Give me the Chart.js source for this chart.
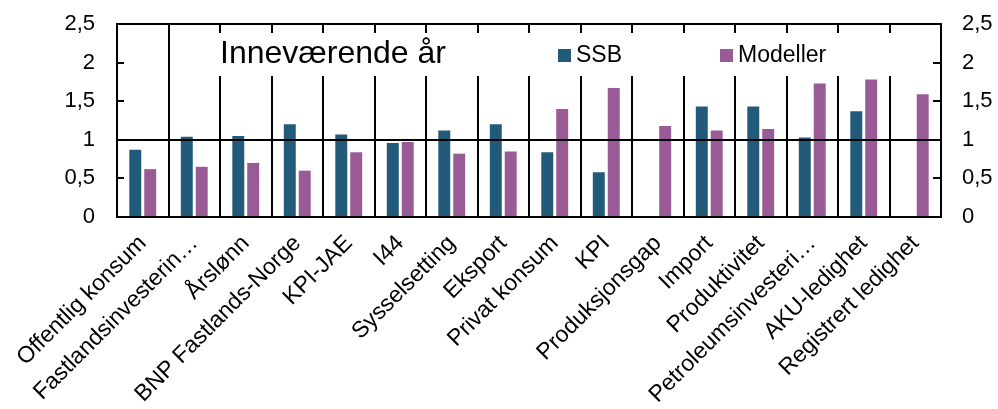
<!DOCTYPE html>
<html>
<head>
<meta charset="utf-8">
<script src="https://cdn.jsdelivr.net/npm/chart.js@4"></script>
<style>
  html, body { margin: 0; padding: 0; background: #fff; }
  #wrap { width: 998px; height: 409px; position: relative; }
</style>
</head>
<body>
<div id="wrap"><canvas id="chart"></canvas></div>
<script>
const categories = ['Offentlig konsum', 'Fastlandsinvesterin…', 'Årslønn', 'BNP Fastlands-Norge', 'KPI-JAE', 'I44',
    'Sysselsetting', 'Eksport', 'Privat konsum', 'KPI', 'Produksjonsgap', 'Import', 'Produktivitet',
    'Petroleumsinvesteri…', 'AKU-ledighet', 'Registrert ledighet'];
const ssbValues = [0.87, 1.04, 1.05, 1.20, 1.07, 0.96, 1.12, 1.20, 0.84, 0.58, null, 1.43, 1.43, 1.03, 1.37, null];
const modellerValues = [0.62, 0.65, 0.70, 0.60, 0.84, 0.97, 0.82, 0.85, 1.40, 1.67, 1.18, 1.12, 1.14, 1.73, 1.78, 1.59];
const yTicks = [0, 0.5, 1, 1.5, 2, 2.5];
const chartTitle = 'Inneværende år';

const FONT = "'Liberation Sans', Arial, sans-serif";
Chart.defaults.color = '#000';
Chart.defaults.font.family = FONT;

const fmt = v => String(v).replace('.', ',');

// frame, separators, inward ticks, the line at 1, title and legend
const decorations = {
    id: 'decorations',
    afterDatasetsDraw(chart) {
        const c = chart.ctx;
        const a = chart.chartArea;
        const x = chart.scales.x;
        const y = chart.scales.y;
        const gapTop = a.top + 9, gapBottom = 76;
        c.save();
        c.strokeStyle = '#000';
        c.lineWidth = 2;
        // category separators
        for (let i = 1; i < categories.length; i++) {
            const px = Math.round((x.getPixelForValue(i - 1) + x.getPixelForValue(i)) / 2);
            c.beginPath();
            if (i === 1) {
                c.moveTo(px, a.top); c.lineTo(px, a.bottom);
            } else {
                c.moveTo(px, a.top); c.lineTo(px, gapTop);
                c.moveTo(px, gapBottom); c.lineTo(px, a.bottom);
            }
            c.stroke();
        }
        // inward ticks
        yTicks.forEach(v => {
            const py = Math.round(y.getPixelForValue(v));
            c.beginPath();
            c.moveTo(a.left, py); c.lineTo(a.left + 7, py);
            c.moveTo(a.right, py); c.lineTo(a.right - 8, py);
            c.stroke();
        });
        // line at 1
        const p1 = Math.round(y.getPixelForValue(1));
        c.beginPath();
        c.moveTo(a.left, p1); c.lineTo(a.right, p1);
        c.stroke();
        // frame
        c.strokeRect(a.left, a.top, a.right - a.left, a.bottom - a.top);

        // title
        c.fillStyle = '#000';
        c.textBaseline = 'middle';
        c.textAlign = 'left';
        c.font = '32px ' + FONT;
        c.fillText(chartTitle, 220, 54);

        // legend
        c.font = '23px ' + FONT;
        const legendX = [558, 720];
        chart.data.datasets.forEach((ds, i) => {
            c.fillStyle = ds.backgroundColor;
            c.fillRect(legendX[i], 49, 13, 13);
            c.fillStyle = '#000';
            c.fillText(ds.label, legendX[i] + 18, 56);
        });
        c.restore();
    }
};

function fixWidth(w) {
    return function(scale) {
        scale.width = w;
        scale.paddingTop = 0;
        scale.paddingBottom = 0;
    };
}

const ctx = document.getElementById('chart').getContext('2d');
const chart = new Chart(ctx, {
    type: 'bar',
    data: {
        labels: categories,
        datasets: [{
            label: 'SSB',
            data: ssbValues,
            backgroundColor: '#225A79',
            categoryPercentage: 0.58,
            barPercentage: 0.8
        }, {
            label: 'Modeller',
            data: modellerValues,
            backgroundColor: '#985B96',
            categoryPercentage: 0.58,
            barPercentage: 0.8
        }]
    },
    options: {
        responsive: true,
        maintainAspectRatio: false,
        animation: false,
        layout: { padding: { top: 24 } },
        plugins: {
            legend: { display: false },
            tooltip: { enabled: false }
        },
        scales: {
            x: {
                grid: { display: false },
                border: { display: false },
                ticks: {
                    autoSkip: false,
                    maxRotation: 45,
                    minRotation: 45,
                    padding: 5,
                    font: { size: 23 }
                },
                afterFit(scale) { scale.height = 192; }
            },
            y: {
                position: 'left',
                min: 0,
                max: 2.5,
                grid: { display: false, drawTicks: false },
                border: { display: false },
                ticks: {
                    stepSize: 0.5,
                    padding: 22,
                    font: { size: 22 },
                    callback: v => fmt(v)
                },
                afterFit: fixWidth(117)
            },
            y2: {
                position: 'right',
                min: 0,
                max: 2.5,
                grid: { display: false, drawTicks: false },
                border: { display: false },
                ticks: {
                    stepSize: 0.5,
                    padding: 21,
                    font: { size: 22 },
                    callback: v => fmt(v)
                },
                afterFit: fixWidth(57)
            }
        }
    },
    plugins: [decorations]
});
</script>
</body>
</html>
